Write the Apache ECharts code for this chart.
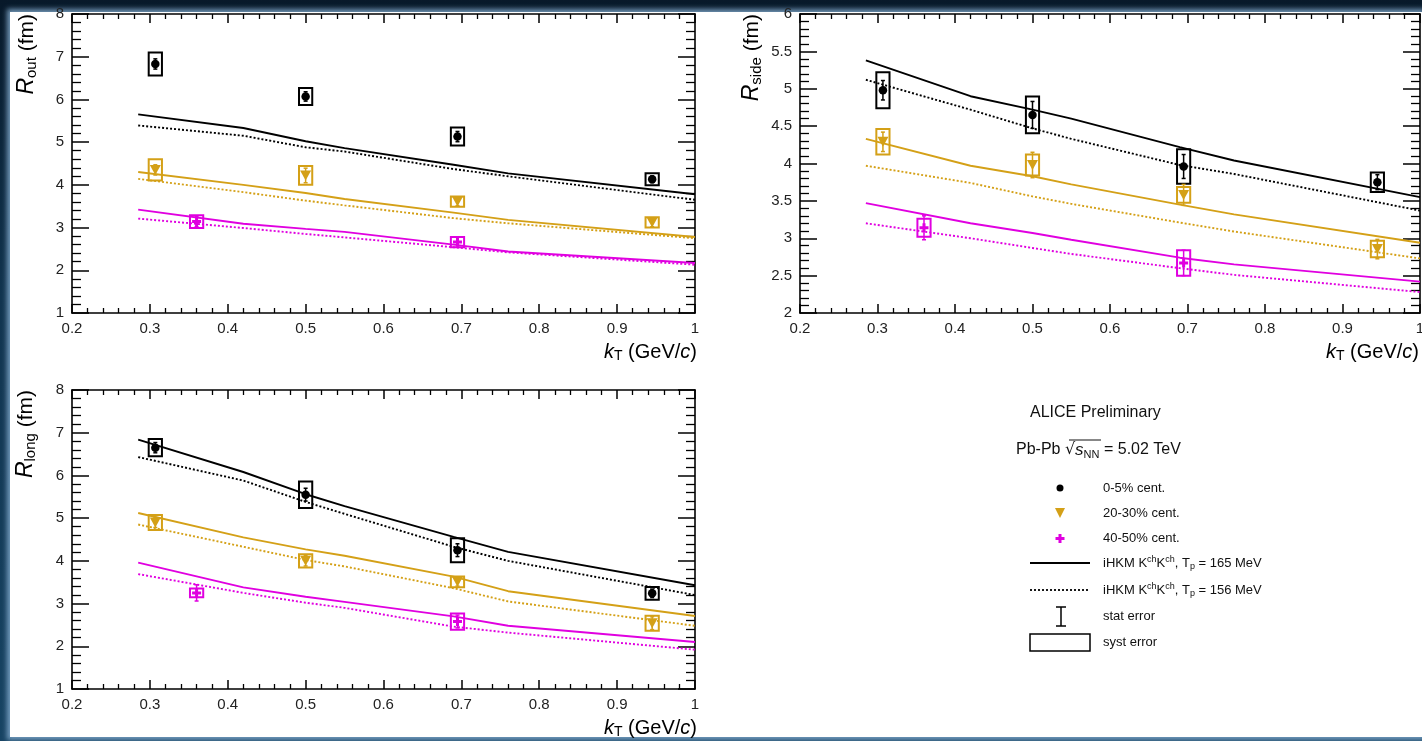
<!DOCTYPE html>
<html><head><meta charset="utf-8">
<script src="https://cdn.jsdelivr.net/npm/echarts@6/dist/echarts.min.js"></script>
<style>
html,body{margin:0;padding:0;overflow:hidden;}
#bg{position:absolute;left:0;top:0;width:1422px;height:741px;background:linear-gradient(180deg,#08192a 0%,#12344f 40%,#184464 100%);}
#white{position:absolute;left:10px;top:12px;width:1412px;height:725px;background:#fff;box-shadow:0 0 5px 3px rgba(130,170,205,0.85);}
#c{position:absolute;left:0;top:0;width:1422px;height:741px;}
</style>
</head><body>
<div id="bg"></div><div id="white"></div><div id="c"></div>
<script>
// ---------------- data ----------------
const kT_points = [0.307, 0.50, 0.695, 0.945];      // 0-5% and 20-30%
const kT_points_4050 = [0.36, 0.695];               // 40-50%
const kT_model = [0.285, 0.42, 0.50, 0.55, 0.69, 0.76, 1.00];
const xTicks = [0.2, 0.3, 0.4, 0.5, 0.6, 0.7, 0.8, 0.9, 1.0];

// R_out
const Rout_c05 = [6.83, 6.07, 5.13, 4.13];
const Rout_c05_syst = [0.27, 0.20, 0.21, 0.14];
const Rout_c05_stat = [0.12, 0.11, 0.12, 0.08];
const Rout_c2030 = [4.35, 4.22, 3.61, 3.12];
const Rout_c2030_syst = [0.25, 0.22, 0.12, 0.12];
const Rout_c2030_stat = [0.12, 0.17, 0.10, 0.10];
const Rout_c4050 = [3.14, 2.66];
const Rout_c4050_syst = [0.15, 0.12];
const Rout_c4050_stat = [0.12, 0.12];
const Rout_c05_165 = [5.65, 5.33, 5.02, 4.86, 4.47, 4.27, 3.78];
const Rout_c05_156 = [5.39, 5.15, 4.88, 4.78, 4.37, 4.20, 3.65];
const Rout_c2030_165 = [4.30, 4.00, 3.81, 3.67, 3.35, 3.18, 2.78];
const Rout_c2030_156 = [4.14, 3.83, 3.63, 3.52, 3.22, 3.10, 2.75];
const Rout_c4050_165 = [3.42, 3.09, 2.97, 2.90, 2.60, 2.44, 2.17];
const Rout_c4050_156 = [3.21, 2.99, 2.85, 2.77, 2.54, 2.42, 2.13];

// R_side
const Rside_c05 = [4.98, 4.65, 3.96, 3.75];
const Rside_c05_syst = [0.24, 0.245, 0.23, 0.13];
const Rside_c05_stat = [0.13, 0.18, 0.16, 0.10];
const Rside_c2030 = [4.29, 3.98, 3.58, 2.855];
const Rside_c2030_syst = [0.17, 0.14, 0.105, 0.11];
const Rside_c2030_stat = [0.13, 0.17, 0.14, 0.13];
const Rside_c4050 = [3.14, 2.67];
const Rside_c4050_syst = [0.12, 0.17];
const Rside_c4050_stat = [0.16, 0.17];
const Rside_c05_165 = [5.38, 4.90, 4.72, 4.60, 4.22, 4.04, 3.55];
const Rside_c05_156 = [5.12, 4.72, 4.47, 4.33, 3.98, 3.86, 3.37];
const Rside_c2030_165 = [4.33, 3.97, 3.83, 3.72, 3.45, 3.32, 2.94];
const Rside_c2030_156 = [3.97, 3.74, 3.56, 3.46, 3.21, 3.09, 2.73];
const Rside_c4050_165 = [3.47, 3.20, 3.07, 2.98, 2.74, 2.65, 2.42];
const Rside_c4050_156 = [3.20, 3.00, 2.87, 2.79, 2.60, 2.51, 2.28];

// R_long
const Rlong_c05 = [6.65, 5.55, 4.25, 3.24];
const Rlong_c05_syst = [0.20, 0.31, 0.28, 0.15];
const Rlong_c05_stat = [0.12, 0.15, 0.15, 0.10];
const Rlong_c2030 = [4.90, 4.00, 3.51, 2.54];
const Rlong_c2030_syst = [0.175, 0.155, 0.125, 0.175];
const Rlong_c2030_stat = [0.12, 0.12, 0.10, 0.15];
const Rlong_c4050 = [3.25, 2.58];
const Rlong_c4050_syst = [0.10, 0.19];
const Rlong_c4050_stat = [0.19, 0.15];
const Rlong_c05_165 = [6.84, 6.08, 5.56, 5.28, 4.56, 4.21, 3.43];
const Rlong_c05_156 = [6.43, 5.88, 5.38, 5.10, 4.33, 4.00, 3.20];
const Rlong_c2030_165 = [5.12, 4.55, 4.27, 4.12, 3.63, 3.29, 2.71];
const Rlong_c2030_156 = [4.85, 4.33, 4.02, 3.87, 3.36, 3.05, 2.48];
const Rlong_c4050_165 = [3.96, 3.38, 3.16, 3.04, 2.70, 2.48, 2.10];
const Rlong_c4050_156 = [3.69, 3.25, 3.02, 2.90, 2.46, 2.32, 1.92];

const yTicks_out = [1, 2, 3, 4, 5, 6, 7, 8];
const yTicks_side = [2, 2.5, 3, 3.5, 4, 4.5, 5, 5.5, 6];
const yTicks_long = [1, 2, 3, 4, 5, 6, 7, 8];

const groupNames = ['0-5% cent.', '20-30% cent.', '40-50% cent.'];

// ---------------- style ----------------
const FONT = '"Liberation Sans", Arimo, Arial, sans-serif';
const COL = ['#000000', '#d4a017', '#e000e0'];
const BOX_HW = 0.0085;
const PLUS = 'path://M3,0H6V3H9V6H6V9H3V6H0V3H3Z';

const panels = [
  { grid: {left: 72, top: 14, width: 623, height: 299}, yTicks: yTicks_out,
    pts: [[kT_points, Rout_c05, Rout_c05_syst, Rout_c05_stat],
          [kT_points, Rout_c2030, Rout_c2030_syst, Rout_c2030_stat],
          [kT_points_4050, Rout_c4050, Rout_c4050_syst, Rout_c4050_stat]],
    model: [[Rout_c05_165, Rout_c05_156], [Rout_c2030_165, Rout_c2030_156], [Rout_c4050_165, Rout_c4050_156]] },
  { grid: {left: 800, top: 14, width: 620, height: 299}, yTicks: yTicks_side,
    pts: [[kT_points, Rside_c05, Rside_c05_syst, Rside_c05_stat],
          [kT_points, Rside_c2030, Rside_c2030_syst, Rside_c2030_stat],
          [kT_points_4050, Rside_c4050, Rside_c4050_syst, Rside_c4050_stat]],
    model: [[Rside_c05_165, Rside_c05_156], [Rside_c2030_165, Rside_c2030_156], [Rside_c4050_165, Rside_c4050_156]] },
  { grid: {left: 72, top: 390, width: 623, height: 299}, yTicks: yTicks_long,
    pts: [[kT_points, Rlong_c05, Rlong_c05_syst, Rlong_c05_stat],
          [kT_points, Rlong_c2030, Rlong_c2030_syst, Rlong_c2030_stat],
          [kT_points_4050, Rlong_c4050, Rlong_c4050_syst, Rlong_c4050_stat]],
    model: [[Rlong_c05_165, Rlong_c05_156], [Rlong_c2030_165, Rlong_c2030_156], [Rlong_c4050_165, Rlong_c4050_156]] }
];

const fmt = v => String(Math.round(v * 10) / 10);
const grids = [], xAxes = [], yAxes = [], series = [];

function axisCommon(len, mlen) {
  return {
    type: 'value',
    axisLine: {show: true, onZero: false, lineStyle: {color: '#000', width: 1.6}},
    axisTick: {show: true, inside: true, length: len, lineStyle: {color: '#000', width: 1.5}},
    minorTick: {show: true, splitNumber: 5, length: mlen, lineStyle: {color: '#000', width: 1.3}},
    splitLine: {show: false}, minorSplitLine: {show: false}
  };
}
const labelStyle = {fontSize: 15, color: '#222', fontFamily: FONT, formatter: fmt};

panels.forEach((p, gi) => {
  grids.push(Object.assign({outerBoundsMode: 'none', containLabel: false}, p.grid));
  const xmin = xTicks[0], xmax = xTicks[xTicks.length - 1];
  const yt = p.yTicks, ymin = yt[0], ymax = yt[yt.length - 1], yint = yt[1] - yt[0];
  xAxes.push(Object.assign(axisCommon(9, 5), {gridIndex: gi, position: 'bottom', min: xmin, max: xmax, interval: xTicks[1] - xTicks[0],
    axisLabel: Object.assign({margin: 8}, labelStyle)}));
  xAxes.push(Object.assign(axisCommon(9, 5), {gridIndex: gi, position: 'top', min: xmin, max: xmax, interval: xTicks[1] - xTicks[0],
    axisLabel: {show: false}}));
  yAxes.push(Object.assign(axisCommon(17, 9), {gridIndex: gi, position: 'left', min: ymin, max: ymax, interval: yint,
    axisLabel: Object.assign({margin: 8}, labelStyle)}));
  yAxes.push(Object.assign(axisCommon(17, 9), {gridIndex: gi, position: 'right', min: ymin, max: ymax, interval: yint,
    axisLabel: {show: false}}));
  const xi = 2 * gi, yi = 2 * gi;

  p.model.forEach((pair, ci) => {
    pair.forEach((arr, k) => {
      series.push({type: 'line', xAxisIndex: xi, yAxisIndex: yi, symbol: 'none', silent: true, z: 2,
        lineStyle: {color: COL[ci], width: 1.9, type: k === 0 ? 'solid' : [2, 2]},
        data: kT_model.map((x, i) => [x, arr[i]])});
    });
  });

  p.pts.forEach((g, ci) => {
    const [xs, ys, syst, stat] = g;
    series.push({type: 'custom', xAxisIndex: xi, yAxisIndex: yi, z: 3, silent: true,
      data: xs.map((x, i) => [x, ys[i], syst[i]]),
      renderItem: (params, api) => {
        const x = api.value(0), y = api.value(1), e = api.value(2);
        const a = api.coord([x - BOX_HW, y + e]), b = api.coord([x + BOX_HW, y - e]);
        return {type: 'rect', shape: {x: a[0], y: a[1], width: b[0] - a[0], height: b[1] - a[1]},
          style: {fill: 'none', stroke: COL[ci], lineWidth: 2}};
      }});
    series.push({type: 'custom', xAxisIndex: xi, yAxisIndex: yi, z: 4, silent: true,
      data: xs.map((x, i) => [x, ys[i], stat[i]]),
      renderItem: (params, api) => {
        const x = api.value(0), y = api.value(1), e = api.value(2);
        const t = api.coord([x, y + e]), b = api.coord([x, y - e]);
        const st = {stroke: COL[ci], lineWidth: 1.5};
        return {type: 'group', children: [
          {type: 'line', shape: {x1: t[0], y1: t[1], x2: b[0], y2: b[1]}, style: st},
          {type: 'line', shape: {x1: t[0] - 2, y1: t[1], x2: t[0] + 2, y2: t[1]}, style: st},
          {type: 'line', shape: {x1: b[0] - 2, y1: b[1], x2: b[0] + 2, y2: b[1]}, style: st}
        ]};
      }});
    const sym = ci === 0 ? {symbol: 'circle', symbolSize: 8.5, symbolRotate: 0}
      : ci === 1 ? {symbol: 'triangle', symbolSize: [11, 10], symbolRotate: 180}
      : {symbol: PLUS, symbolSize: 9, symbolRotate: 0};
    series.push(Object.assign({type: 'scatter', name: groupNames[ci], xAxisIndex: xi, yAxisIndex: yi, z: 5, silent: true,
      itemStyle: {color: COL[ci], opacity: 1}, data: xs.map((x, i) => [x, ys[i]])}, sym));
  });
});

// ---------------- titles & legend (graphic) ----------------
const yRich = {
  i: {fontStyle: 'italic', fontSize: 23, fontFamily: FONT, fill: '#000'},
  sub: {fontSize: 15, fontFamily: FONT, padding: [9, 0, 0, 0], fill: '#000'},
  n: {fontSize: 21, fontFamily: FONT, fill: '#000'}
};
const xRich = {
  i: {fontStyle: 'italic', fontSize: 20, fontFamily: FONT, fill: '#000'},
  sub: {fontSize: 14, fontFamily: FONT, padding: [9, 0, 0, 0], fill: '#000'},
  n: {fontSize: 20, fontFamily: FONT, fill: '#000'}
};
function yTitle(x, y, subTxt) {
  return {type: 'text', x: x, y: y, rotation: Math.PI / 2, silent: true,
    style: {text: '{i|R}{sub|' + subTxt + '}{n| (fm)}', rich: yRich, align: 'right', verticalAlign: 'middle'}};
}
function xTitle(x, y) {
  return {type: 'text', x: x, y: y, silent: true,
    style: {text: '{i|k}{sub|T}{n| (GeV/}{i|c}{n|)}', rich: xRich, align: 'right', verticalAlign: 'middle'}};
}
const legRich = {
  t: {fontSize: 13, fontFamily: FONT, fill: '#111'},
  sup: {fontSize: 9, fontFamily: FONT, padding: [0, 0, 7, 0], fill: '#111'},
  sub: {fontSize: 9, fontFamily: FONT, padding: [7, 0, 0, 0], fill: '#111'}
};
const LX = 1060, TX = 1103;
const graphic = [
  yTitle(27, 14, 'out'), yTitle(752, 14, 'side'), yTitle(26, 390, 'long'),
  xTitle(697, 352), xTitle(1419, 352), xTitle(697, 728),
  {type: 'text', x: 1030, y: 413, silent: true, style: {text: 'ALICE Preliminary', fontSize: 16, fontFamily: FONT, fill: '#111', verticalAlign: 'middle'}},
  {type: 'text', x: 1016, y: 450, silent: true, style: {
    text: '{t|Pb-Pb }{r|√}{s|s}{sub|NN}{t| = 5.02 TeV}', verticalAlign: 'middle',
    rich: {t: {fontSize: 16, fontFamily: FONT, fill: '#111'}, r: {fontSize: 16, fontFamily: 'DejaVu Sans', fill: '#111'},
      s: {fontSize: 17, fontStyle: 'italic', fontFamily: FONT, fill: '#111'},
      sub: {fontSize: 11, fontFamily: FONT, padding: [9, 0, 0, 0], fill: '#111'}}}},
  {type: 'line', silent: true, shape: {x1: 1069, y1: 440, x2: 1101, y2: 440}, style: {stroke: '#111', lineWidth: 1}},
  {type: 'circle', silent: true, shape: {cx: LX, cy: 488, r: 3.5}, style: {fill: COL[0]}},
  {type: 'polygon', silent: true, shape: {points: [[LX - 5, 508], [LX + 5, 508], [LX, 518]]}, style: {fill: COL[1]}},
  {type: 'polygon', silent: true, shape: {points: [[LX - 1.5, 534], [LX + 1.5, 534], [LX + 1.5, 537], [LX + 4.5, 537], [LX + 4.5, 540], [LX + 1.5, 540], [LX + 1.5, 543], [LX - 1.5, 543], [LX - 1.5, 540], [LX - 4.5, 540], [LX - 4.5, 537], [LX - 1.5, 537]]}, style: {fill: COL[2]}},
  {type: 'line', silent: true, shape: {x1: 1030, y1: 563, x2: 1090, y2: 563}, style: {stroke: '#000', lineWidth: 1.8}},
  {type: 'line', silent: true, shape: {x1: 1030, y1: 590, x2: 1090, y2: 590}, style: {stroke: '#000', lineWidth: 1.8, lineDash: [2, 2]}},
  {type: 'line', silent: true, shape: {x1: 1061, y1: 607, x2: 1061, y2: 626}, style: {stroke: '#000', lineWidth: 1.5}},
  {type: 'line', silent: true, shape: {x1: 1056, y1: 607, x2: 1066, y2: 607}, style: {stroke: '#000', lineWidth: 1.5}},
  {type: 'line', silent: true, shape: {x1: 1056, y1: 626, x2: 1066, y2: 626}, style: {stroke: '#000', lineWidth: 1.5}},
  {type: 'rect', silent: true, shape: {x: 1030, y: 634, width: 60, height: 17}, style: {fill: 'none', stroke: '#000', lineWidth: 1.5}},
  {type: 'text', x: TX, y: 488, silent: true, style: {text: groupNames[0], fontSize: 13, fontFamily: FONT, fill: '#111', verticalAlign: 'middle'}},
  {type: 'text', x: TX, y: 513, silent: true, style: {text: groupNames[1], fontSize: 13, fontFamily: FONT, fill: '#111', verticalAlign: 'middle'}},
  {type: 'text', x: TX, y: 538, silent: true, style: {text: groupNames[2], fontSize: 13, fontFamily: FONT, fill: '#111', verticalAlign: 'middle'}},
  {type: 'text', x: TX, y: 563, silent: true, style: {text: '{t|iHKM K}{sup|ch}{t|K}{sup|ch}{t|, T}{sub|p}{t| = 165 MeV}', rich: legRich, verticalAlign: 'middle'}},
  {type: 'text', x: TX, y: 590, silent: true, style: {text: '{t|iHKM K}{sup|ch}{t|K}{sup|ch}{t|, T}{sub|p}{t| = 156 MeV}', rich: legRich, verticalAlign: 'middle'}},
  {type: 'text', x: TX, y: 616, silent: true, style: {text: 'stat error', fontSize: 13, fontFamily: FONT, fill: '#111', verticalAlign: 'middle'}},
  {type: 'text', x: TX, y: 642, silent: true, style: {text: 'syst error', fontSize: 13, fontFamily: FONT, fill: '#111', verticalAlign: 'middle'}}
];

const chart = echarts.init(document.getElementById('c'), null, {renderer: 'canvas'});
chart.setOption({
  backgroundColor: 'transparent',
  animation: false,
  textStyle: {fontFamily: FONT},
  grid: grids, xAxis: xAxes, yAxis: yAxes, series: series, graphic: graphic
});
</script>
</body></html>
